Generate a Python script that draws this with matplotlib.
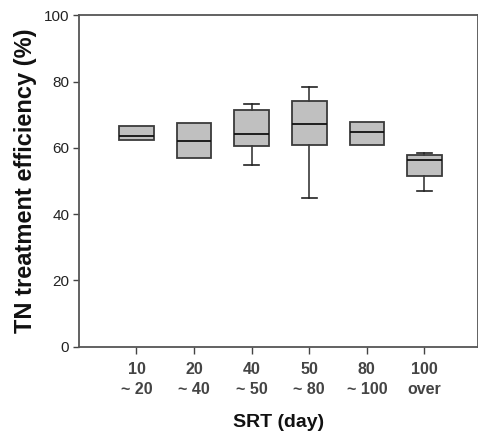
import matplotlib
matplotlib.use("Agg")
import matplotlib.pyplot as plt

plt.rcParams['font.family'] = ['Liberation Sans', 'DejaVu Sans']

# SRT groups and box statistics (TN efficiency, %)
groups = ["10\n~ 20", "20\n~ 40", "40\n~ 50", "50\n~ 80", "80\n~ 100", "100\nover"]
q1 = [62.4, 56.8, 60.7, 60.9, 60.9, 51.6]
med = [63.7, 62.1, 64.3, 67.3, 64.9, 56.3]
q3 = [66.7, 67.6, 71.5, 74.2, 67.9, 57.8]
whislo = [62.4, 56.8, 54.8, 44.9, 60.9, 47.0]
whishi = [66.7, 67.6, 73.2, 78.5, 67.9, 58.6]

stats = []
for i in range(len(groups)):
    stats.append(dict(q1=q1[i], med=med[i], q3=q3[i],
                      whislo=whislo[i], whishi=whishi[i], fliers=[]))

fig = plt.figure(figsize=(4.78, 4.42), dpi=100)
ax = fig.add_axes([0.165, 0.216, 0.835, 0.749])

pos = list(range(1, len(groups) + 1))
bp = ax.bxp(stats, positions=pos, widths=0.6, patch_artist=True, showfliers=False,
            boxprops=dict(facecolor="#c0c0c0", edgecolor="#3a3a3a", linewidth=1.3),
            medianprops=dict(color="#111111", linewidth=1.3),
            whiskerprops=dict(color="#3a3a3a", linewidth=1.2),
            capprops=dict(color="#222222", linewidth=1.2),
            capwidths=0.26)

# no caps where the whisker is zero length
for i in range(len(groups)):
    if whislo[i] == q1[i]:
        bp['caps'][2 * i].set_visible(False)
    if whishi[i] == q3[i]:
        bp['caps'][2 * i + 1].set_visible(False)

ax.set_xlim(0, 6.93)
ax.set_ylim(0, 100)
ax.set_yticks([0, 20, 40, 60, 80, 100])
ax.set_xticks(pos)
ax.set_xticklabels(groups, fontsize=11.5, fontweight="bold", linespacing=1.45,
                   color="#222222")
ax.tick_params(axis="y", labelsize=11, direction="out", length=4, width=1,
               colors="#444444", labelcolor="#222222", pad=3)
ax.tick_params(axis="x", direction="out", length=5, width=1, colors="#444444",
               pad=6)

for s in ax.spines.values():
    s.set_color("#555555")
    s.set_linewidth(1.3)

ax.set_ylabel("TN treatment efficiency (%)", fontsize=17, fontweight="bold",
              labelpad=5, color="#111111")
ax.set_xlabel("SRT (day)", fontsize=14, fontweight="bold", labelpad=12,
              color="#111111")

fig.savefig("out.png", dpi=100)
